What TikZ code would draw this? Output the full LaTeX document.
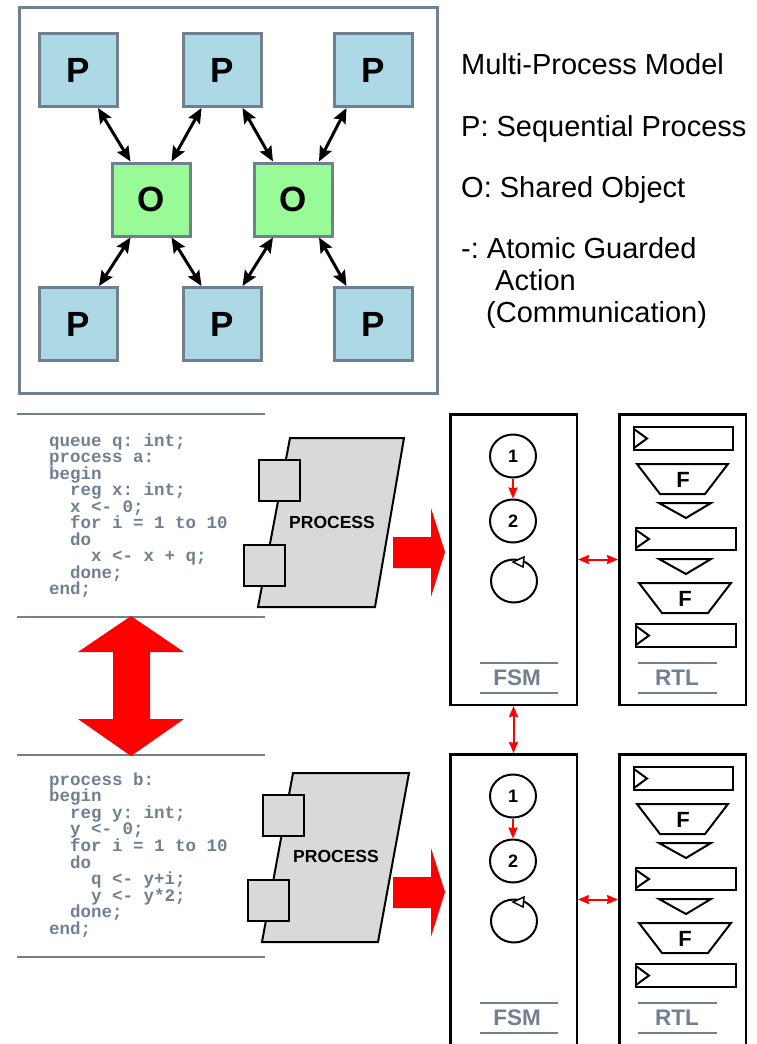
\documentclass[tikz,border=0pt]{standalone}
\usepackage{fontspec}
\setmainfont{Liberation Sans}
\newfontfamily\codefont{Liberation Mono}
\usetikzlibrary{arrows.meta,shapes.geometric,calc}
\definecolor{slate}{HTML}{708090}
\definecolor{pblue}{HTML}{ADD8E6}
\definecolor{ogreen}{HTML}{98FB98}
\definecolor{procgray}{HTML}{D9D9D9}
\frenchspacing

\begin{document}
\begin{tikzpicture}[x=1pt,y=-1pt,
  modelframe/.style={draw=slate,line width=3pt},
  pnode/.style={draw=slate,line width=3pt,fill=pblue,minimum width=78pt,minimum height=73pt,
    inner sep=0pt,font=\fontsize{35}{35}\selectfont\bfseries},
  onode/.style={pnode,fill=ogreen},
  link/.style={line width=3pt,
    {Stealth[length=15pt,width=13pt,inset=2.5pt]}-{Stealth[length=15pt,width=13pt,inset=2.5pt]}},
  legend/.style={anchor=base west,inner sep=0pt,font=\fontsize{29}{29}\selectfont},
  codeline/.style={anchor=base west,inner sep=0pt,text=slate,
    font=\codefont\fontsize{17.5}{17.5}\selectfont\bfseries},
  sepline/.style={draw=slate,line width=2.5pt},
  procshape/.style={draw=black,line width=2pt,fill=procgray,line join=miter},
  port/.style={draw=black,line width=2pt,fill=procgray,minimum size=41pt,inner sep=0pt},
  proclabel/.style={anchor=base,inner sep=0pt,font=\fontsize{17.5}{17.5}\selectfont\bfseries},
  bigarrow/.style={fill=red},
  panel/.style={draw=black,line width=2.5pt,minimum width=126.5pt,minimum height=290.5pt,inner sep=0pt},
  state/.style={ellipse,draw=black,line width=2pt,minimum width=46pt,minimum height=43pt,
    inner sep=0pt,font=\fontsize{18}{18}\selectfont\bfseries},
  sig/.style={red,line width=2pt,-{Stealth[length=11pt,width=9pt,inset=1pt]}},
  sigboth/.style={red,line width=2pt,
    {Stealth[length=11pt,width=9pt,inset=1pt]}-{Stealth[length=11pt,width=9pt,inset=1pt]}},
  tag/.style={text=slate,inner sep=0pt,font=\fontsize{22.5}{22.5}\selectfont\bfseries},
  rtlpart/.style={draw=black,line width=2pt,line join=miter},
  fn/.style={inner sep=0pt,font=\fontsize{22}{22}\selectfont\bfseries}
]
\path[use as bounding box] (0,0) rectangle (756,1044);
\fill[white] (0,0) rectangle (756,1044);

% ---- multi-process model ----
\draw[modelframe] (19,7) rectangle (437,393);
\node[pnode] (p1) at (78.5,70) {P};
\node[pnode] (p2) at (222,70) {P};
\node[pnode] (p3) at (373,70) {P};
\node[onode] (o1) at (151,199.5) {O};
\node[onode] (o2) at (293.5,199.5) {O};
\node[pnode] (p4) at (78.5,324) {P};
\node[pnode] (p5) at (222,324) {P};
\node[pnode] (p6) at (373,324) {P};

\draw[link] ([xshift=-21pt]p1.south east) -- ([xshift=20pt]o1.north west);
\draw[link] ([xshift=20pt]p2.south west) -- ([xshift=-20pt]o1.north east);
\draw[link] ([xshift=-20pt]p2.south east) -- ([xshift=20pt]o2.north west);
\draw[link] ([xshift=14pt]p3.south west) -- ([xshift=-15pt]o2.north east);
\draw[link] ([xshift=20pt]o1.south west) -- ([xshift=-20pt]p4.north east);
\draw[link] ([xshift=-20pt]o1.south east) -- ([xshift=20pt]p5.north west);
\draw[link] ([xshift=20pt]o2.south west) -- ([xshift=-20pt]p5.north east);
\draw[link] ([xshift=-15pt]o2.south east) -- ([xshift=14pt]p6.north west);

\node[legend] (lg1) at (461,74) {Multi-Process Model};
\node[legend] (lg2) at (461,136) {P: Sequential Process};
\node[legend] (lg3) at (461,197) {O: Shared Object};
\node[legend] (lg4) at (461,258) {-: Atomic Guarded};
\node[legend] (lg5) at (495,290) {Action};
\node[legend] (lg6) at (486,322) {(Communication)};

% ---- source code of the two processes ----
\draw[sepline] (17,414) -- (265,414);
\draw[sepline] (17,617) -- (265,617);
\draw[sepline] (17,755) -- (265,755);
\draw[sepline] (17,957) -- (265,957);

\foreach \txt [count=\i from 0] in {queue q: int;, process a:, begin,
    \ \ reg x: int;, \ \ x <- 0;, \ \ for i = 1 to 10, \ \ do,
    \ \ \ \ x <- x + q;, \ \ done;, end;}
  \node[codeline] (codeA-\i) at (49,446+16.5*\i) {\txt};

\foreach \txt [count=\i from 0] in {process b:, begin,
    \ \ reg y: int;, \ \ y <- 0;, \ \ for i = 1 to 10, \ \ do,
    \ \ \ \ q <- y+i;, \ \ \ \ y <- y*2;, \ \ done;, end;}
  \node[codeline] (codeB-\i) at (49,785+16.6*\i) {\txt};

% exchange between the two processes
\fill[bigarrow] (131,616) -- (184,652) -- (150,652) -- (150,719) -- (184,719)
  -- (131,756) -- (78,719) -- (113,719) -- (113,652) -- (78,652) -- cycle;

% ---- process blocks ----
\draw[procshape] (290,438) -- (404,438) -- (375,607) -- (258,607) -- cycle;
\node[port] (portA1) at (279.5,480.5) {};
\node[port] (portA2) at (264,565.5) {};
\node[proclabel] (procA) at (332,528) {PROCESS};

\draw[procshape] (293,773) -- (409,773) -- (378,942) -- (262,942) -- cycle;
\node[port] (portB1) at (283.5,815.5) {};
\node[port] (portB2) at (268,900.5) {};
\node[proclabel] (procB) at (336,862) {PROCESS};

\fill[bigarrow] (393,537) -- (431,537) -- (431,508) -- (445,552) -- (431,597)
  -- (431,568) -- (393,568) -- cycle;
\fill[bigarrow] (393,877) -- (431,877) -- (431,848) -- (445,892) -- (431,937)
  -- (431,908) -- (393,908) -- cycle;

% ---- FSM and RTL panels ----
\foreach \s/\dy in {A/0,B/340} {
  \node[panel] (fsm\s) at (513.5,559.5+\dy) {};
  \node[panel] (rtl\s) at (682.5,559.5+\dy) {};

  \node[state] (st\s1) at (513,456+\dy) {1};
  \node[state] (st\s2) at (513,521+\dy) {2};
  \node[state] (st\s3) at (514,581+\dy) {};
  \draw[sig] (st\s1.south) -- (st\s2.north);
  \draw[line width=1.5pt,fill=white,line join=miter]
    ($(st\s3)+(10,-24)$) -- ($(st\s3)+(-1,-19)$) -- ($(st\s3)+(9,-14)$) -- cycle;

  \draw[sigboth] (fsm\s.east) -- (rtl\s.west);

  \begin{scope}[shift={(0,\dy)}]
    \draw[sepline] (480,663) -- (558,663);
    \draw[sepline] (480,693) -- (558,693);
    \node[tag] (fsmtag\s) at (517,678) {FSM};
    \draw[sepline] (638,663) -- (717,663);
    \draw[sepline] (638,693) -- (717,693);
    \node[tag] (rtltag\s) at (677,678) {RTL};

    \draw[rtlpart] (634,427) rectangle (733,450);
    \draw[rtlpart] (634,429) -- (647,438.5) -- (634,448);
    \draw[rtlpart] (637,464) -- (728,464) -- (705,494) -- (660,494) -- cycle;
    \node[fn] (fnA\s) at (683,480) {F};
    \draw[rtlpart] (659,503) -- (711,503) -- (686,518) -- cycle;
    \draw[rtlpart] (636,528) rectangle (736,550);
    \draw[rtlpart] (636,530) -- (649,539) -- (636,548);
    \draw[rtlpart] (659,559) -- (711,559) -- (686,574) -- cycle;
    \draw[rtlpart] (639,583) -- (731,583) -- (708,613) -- (662,613) -- cycle;
    \node[fn] (fnB\s) at (685,599) {F};
    \draw[rtlpart] (636,624) rectangle (736,647);
    \draw[rtlpart] (636,626) -- (649,635.5) -- (636,645);
  \end{scope}
}
\draw[sigboth] (fsmA.south) -- (fsmB.north);
\end{tikzpicture}
\end{document}
